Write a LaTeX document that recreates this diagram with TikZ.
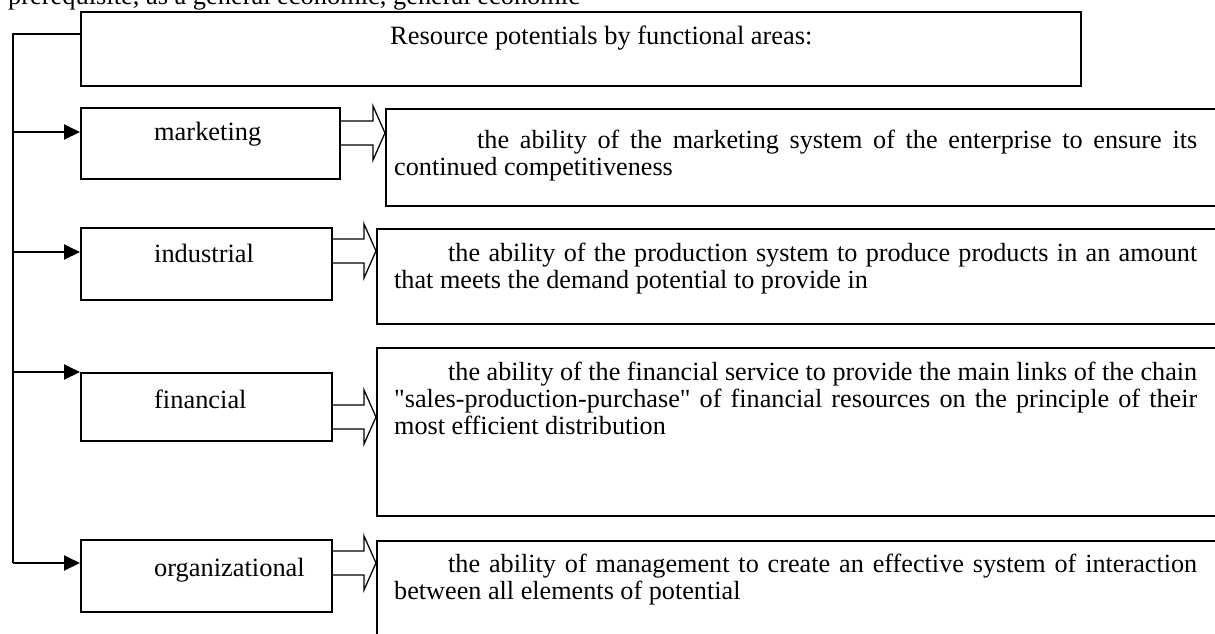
\documentclass[tikz,border=0pt]{standalone}
\usepackage{fontspec}
\setmainfont{Liberation Serif}[Ligatures=TeXOff]
\usetikzlibrary{arrows.meta,calc}

% outlined block arrow from the east side of #1 to the west side of #2, centred at the height of #3
\newcommand{\hollowarrow}[3]{%
  \draw[hollow] ($(#1.east|-#3)+(0,-12)$) -- ($(#2.west|-#3)+(-12,-12)$)
    -- ($(#2.west|-#3)+(-12,-27)$) -- (#2.west|-#3)
    -- ($(#2.west|-#3)+(-12,27)$) -- ($(#2.west|-#3)+(-12,12)$)
    -- ($(#1.east|-#3)+(0,12)$);}

\begin{document}
\begin{tikzpicture}[x=1pt,y=-1pt,
  box/.style={draw, line width=1.6pt, inner sep=0pt, anchor=north west},
  boxlabel/.style={font=\fontsize{26.4}{27}\selectfont, inner sep=0pt, anchor=base west},
  para/.style={font={\fontsize{26.2}{26.8}\selectfont\tolerance=10000\relax\hyphenpenalty=10000\relax},
    text width=803pt, align=justify, inner sep=0pt, anchor=north west},
  trunk/.style={line width=2pt},
  conn/.style={line width=2pt, -{Triangle[length=16pt,width=15pt]}},
  hollow/.style={line width=1.3pt, line join=miter}]

\fill[white] (0,0) rectangle (1215,633);
\useasboundingbox (0,0) rectangle (1215,633);

% running text line above the chart
\node[boxlabel] (pre) at (8,4.5) {prerequisite, as a general economic, general economic};

% heading box
\node[box, minimum width=1000pt, minimum height=74pt] (top) at (80,11) {};
\node[boxlabel] (toptxt) at (390,44) {Resource potentials by functional areas:};

% functional areas
\node[box, minimum width=259pt, minimum height=71pt] (mkt) at (80,107) {};
\node[box, minimum width=251pt, minimum height=72pt] (ind) at (80,227) {};
\node[box, minimum width=251pt, minimum height=68pt] (fin) at (80,372) {};
\node[box, minimum width=251pt, minimum height=72pt] (org) at (80,539) {};
\node[boxlabel] (mktl) at (154,140) {marketing};
\node[boxlabel] (indl) at (154,262) {industrial};
\node[boxlabel] (finl) at (154,408) {financial};
\node[boxlabel] (orgl) at (154,576) {organizational};

% description boxes (running past the right edge)
\node[box, minimum width=900pt, minimum height=97pt] (mtx) at (385,108) {};
\node[box, minimum width=900pt, minimum height=95pt] (itx) at (376,228) {};
\node[box, minimum width=900pt, minimum height=168pt] (ftx) at (376,347) {};
\node[box, minimum width=900pt, minimum height=130pt] (otx) at (376,540) {};

\node[para] (mtxt) at (394,129.5) {\noindent\hspace*{83pt}\strut the ability of the marketing system of the enterprise to ensure its\linebreak continued competitiveness};
\node[para] (itxt) at (394,243) {\noindent\hspace*{54pt}\strut the ability of the production system to produce products in an amount\linebreak that meets the demand potential to provide in};
\node[para] (ftxt) at (394,362) {\noindent\hspace*{54pt}\strut the ability of the financial service to provide the main links of the chain\linebreak "sales-production-purchase" of financial resources on the principle of their\linebreak most efficient distribution};
\node[para] (otxt) at (394,554) {\noindent\hspace*{54pt}\strut the ability of management to create an effective system of interaction\linebreak between all elements of potential};

% feeder line and arrows
\coordinate (t0) at (13,34);
\coordinate (jm) at (13,132);
\coordinate (ji) at (13,252);
\coordinate (jf) at (13,372);
\coordinate (jo) at (13,563);
\draw[trunk] (top.west |- t0) -- (t0) -- (jo);
\draw[conn] (jm) -- (jm -| mkt.west);
\draw[conn] (ji) -- (ji -| ind.west);
\draw[conn] (jf) -- (jf -| fin.west);
\draw[conn] (jo) -- (jo -| org.west);

% block arrows to the descriptions
\coordinate (am) at (0,133);
\coordinate (ai) at (0,251);
\coordinate (af) at (0,417);
\coordinate (ao) at (0,563);
\hollowarrow{mkt}{mtx}{am}
\hollowarrow{ind}{itx}{ai}
\hollowarrow{fin}{ftx}{af}
\hollowarrow{org}{otx}{ao}
\end{tikzpicture}
\end{document}
